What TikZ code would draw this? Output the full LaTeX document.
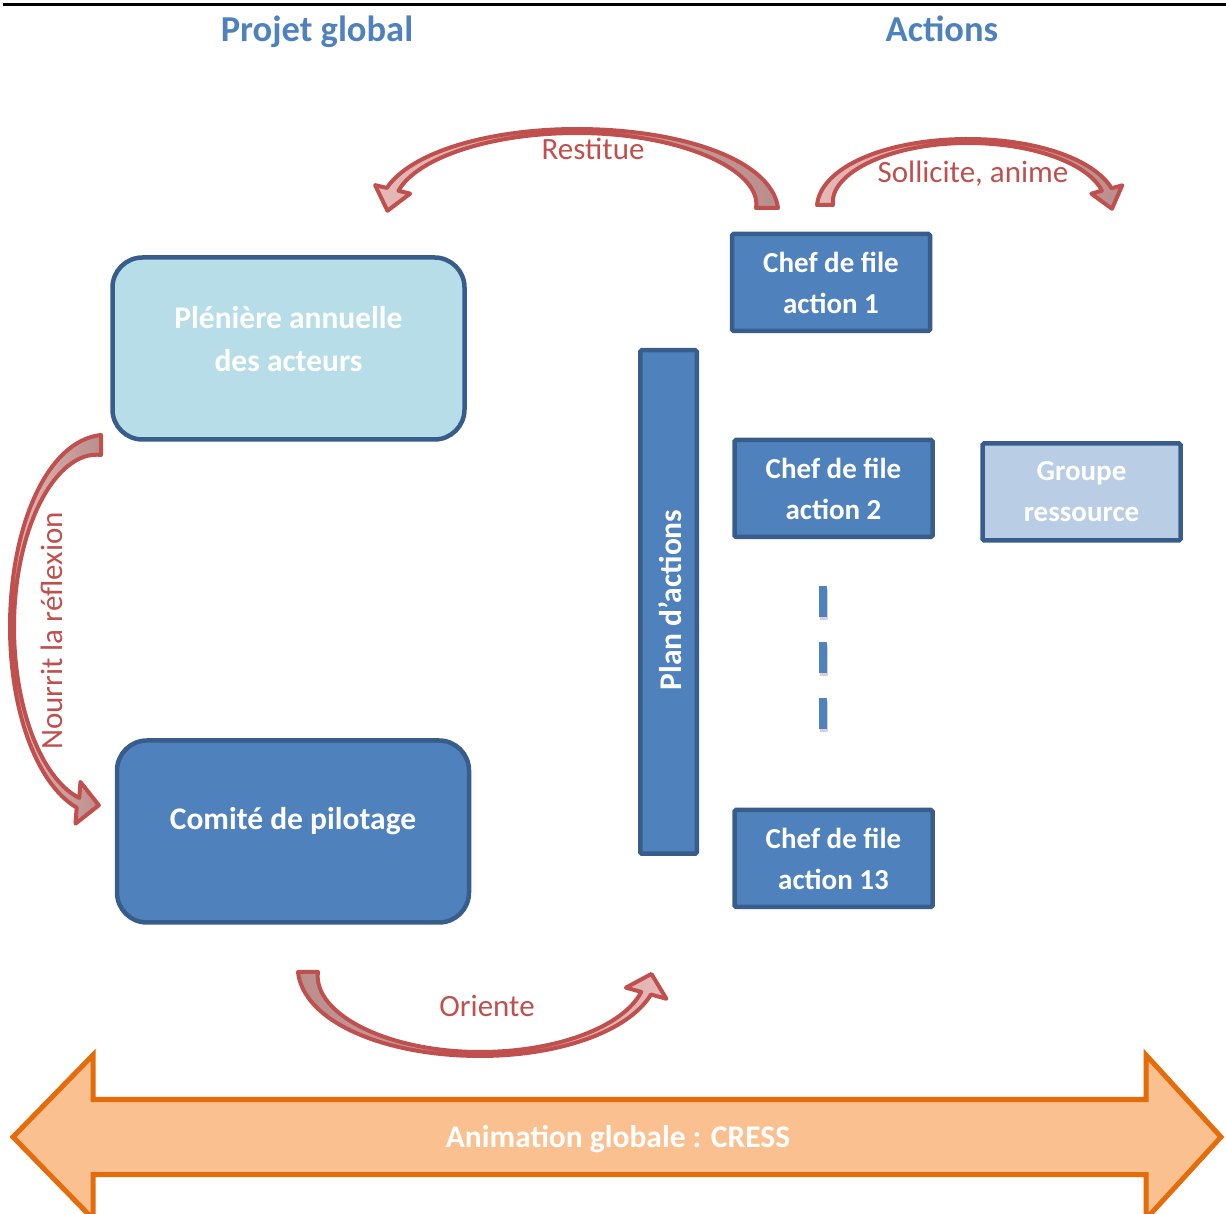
\documentclass[tikz,border=0pt]{standalone}
\usepackage{fontspec}
\setmainfont{Carlito}
\usetikzlibrary{shadows}

\definecolor{accent}{HTML}{4F81BD}
\definecolor{edge}{HTML}{385D8A}
\definecolor{paleblue}{HTML}{B7DDE8}
\definecolor{greyblue}{HTML}{B9CDE5}
\definecolor{brick}{HTML}{C0504D}
\definecolor{rose}{HTML}{E6B9B8}
\definecolor{rosedark}{HTML}{B98E8D}
\definecolor{tangerine}{HTML}{E46C0A}
\definecolor{apricot}{HTML}{FAC090}

% Curved band arrow in a local frame: centre line is the ellipse arc
% (a cos t, b sin t), t from 0 (tail) to #3 (head).
% #1 a, #2 b, #3 head angle, #4/#5/#6 half width at tail/top/head,
% #7 half width of the head, #8 length of the head, #9 turn of the head.
\newcommand{\swoosh}[9]{%
  \pgfmathsetmacro\sa{#1}\pgfmathsetmacro\sb{#2}\pgfmathsetmacro\sth{#3}%
  \pgfmathsetmacro\swt{#4}\pgfmathsetmacro\swm{#5}\pgfmathsetmacro\swh{#6}%
  \pgfmathsetmacro\spx{\sa*cos(\sth)}\pgfmathsetmacro\spy{\sb*sin(\sth)}%
  \pgfmathsetmacro\sdx{-\sa*sin(\sth)}\pgfmathsetmacro\sdy{\sb*cos(\sth)}%
  \pgfmathsetmacro\sdl{veclen(\sdx,\sdy)}%
  \pgfmathsetmacro\sux{\sdx/\sdl}\pgfmathsetmacro\suy{\sdy/\sdl}%
  \pgfmathsetmacro\svx{\sux*cos(#9)-\suy*sin(#9)}%
  \pgfmathsetmacro\svy{\sux*sin(#9)+\suy*cos(#9)}%
  \path[bandarrow]
    plot[domain=0:\sth, samples=70, variable=\t]
      ({(\sa+hw(\t))*cos(\t)},{(\sb+hw(\t))*sin(\t)})
    -- ({\spx+#7*\svy},{\spy-#7*\svx})
    -- ({\spx+#8*\svx},{\spy+#8*\svy})
    -- ({\spx-#7*\svy},{\spy+#7*\svx})
    -- plot[domain=\sth:0, samples=70, variable=\t]
      ({(\sa-hw(\t))*cos(\t)},{(\sb-hw(\t))*sin(\t)})
    -- cycle;
}

\begin{document}
\begin{tikzpicture}[x=1pt,y=1pt,
  declare function={
    hw(\u)=\swm+(\u<90)*(\swt-\swm)*(1-\u/90)*(1-\u/90)
               +(\u>=90)*(\swh-\swm)*((\u-90)/(\sth-90))*((\u-90)/(\sth-90));
  },
  bandarrow/.style={draw=brick, line width=4pt, line join=round,
    left color=rose, right color=rosedark},
  heading/.style={text=accent, font=\bfseries\fontsize{36.5}{40}\selectfont, anchor=base},
  bigbox/.style={draw=edge, line width=4.5pt, rounded corners=30pt, inner sep=0pt},
  chefbox/.style={draw=edge, fill=accent, line width=4.5pt, rounded corners=1.5pt,
    minimum width=198pt, minimum height=97pt, inner sep=0pt, align=center,
    text=white, font=\bfseries\fontsize{29}{41}\selectfont},
  boxtext/.style={text=white, align=center, font=\bfseries\fontsize{31.5}{43}\selectfont},
  verb/.style={text=brick, font=\fontsize{31}{36}\selectfont},
  dashbar/.style={fill=accent, draw=none, minimum width=8pt, minimum height=31pt,
    inner sep=0pt, drop shadow={shadow xshift=1pt, shadow yshift=-3pt, opacity=.35}},
]
\useasboundingbox (0,0) rectangle (1226,1213);

% rule across the top and column headings
\draw[line width=3pt] (3,1208.5) -- (1226,1208.5);
\node[heading] (hproj) at (317,1171) {Projet global};
\node[heading] (hact) at (942,1171) {Actions};

% left column
\node[bigbox, fill=paleblue, minimum width=352pt, minimum height=182pt] (pleniere) at (288.5,864.5) {};
\node[boxtext] (pleniereT) at (288.5,873.5) {Plénière annuelle\\des acteurs};
\node[bigbox, fill=accent, minimum width=352pt, minimum height=182pt] (comite) at (293,381.5) {};
\node[boxtext] (comiteT) at (293,392) {Comité de pilotage};

% plan of actions
\node[draw=edge, fill=accent, line width=4.5pt, rounded corners=1.5pt, inner sep=0pt,
  minimum width=56.5pt, minimum height=503.5pt] (plan) at (668.5,611) {};
\node[boxtext, rotate=90] (planT) at (670,613) {Plan d’actions};

% action leaders
\node[chefbox] (chef1) at (831,930.5) {Chef de file\\action 1};
\node[chefbox] (chef2) at (833.5,724.5) {Chef de file\\action 2};
\node[chefbox] (chef13) at (833.5,354.5) {Chef de file\\action 13};
\node[chefbox, fill=greyblue] (groupe) at (1081.5,721) {Groupe\\ressource};

\node[dashbar] (dot1) at (823,611.5) {};
\node[dashbar] (dot2) at (823,555.5) {};
\node[dashbar] (dot3) at (823,499.5) {};

% curved arrows
\begin{scope}[shift={(577,1005)}]
  \swoosh{190}{77}{166}{11}{2}{6}{18}{22}{18}
\end{scope}
\begin{scope}[shift={(968,1008)}, xscale=-1]
  \swoosh{143}{64}{166}{8}{2}{5}{16}{20}{14}
\end{scope}
\begin{scope}[shift={(101,586)}, rotate=90]
  \swoosh{182}{89}{165}{10}{2}{5}{21}{21}{22}
\end{scope}
\begin{scope}[shift={(480,241)}, rotate=180,
  bandarrow/.append style={left color=rosedark, right color=rose}]
  \swoosh{172}{82}{165}{10}{2}{5}{21}{20}{14}
\end{scope}

\node[verb] (restitue) at (593,1064) {Restitue};
\node[verb] (sollicite) at (973,1039) {Sollicite, anime};
\node[verb, rotate=90] (nourrit) at (52,582) {Nourrit la réflexion};
\node[verb] (oriente) at (487,207) {Oriente};

% global animation double arrow
\draw[fill=apricot, draw=tangerine, line width=5pt, line join=miter]
  (13,76) -- (93,158) -- (93,113.5) -- (1146,113.5) -- (1146,158) -- (1221,76)
  -- (1146,-6) -- (1146,38.5) -- (93,38.5) -- (93,-6) -- cycle;
\node[boxtext] (cress) at (618,74) {Animation globale : CRESS};
\end{tikzpicture}
\end{document}
